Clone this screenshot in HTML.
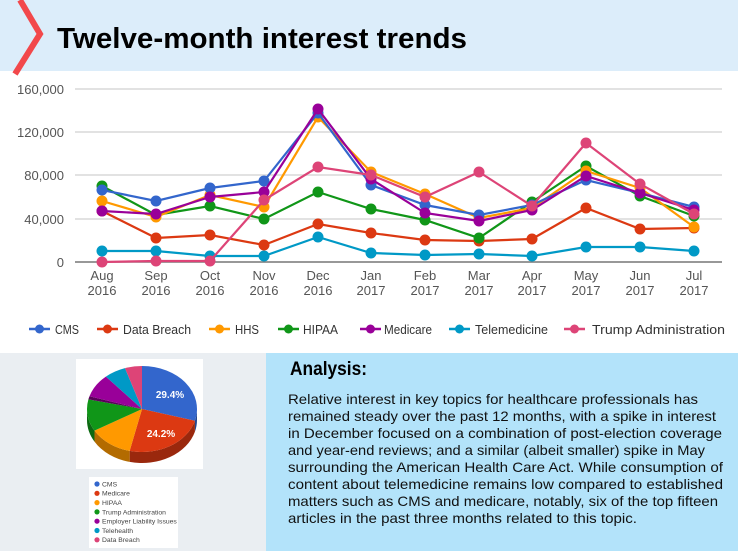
<!DOCTYPE html>
<html><head><meta charset="utf-8"><style>
html,body{margin:0;padding:0;width:738px;height:551px;overflow:hidden;background:#fff}
svg{display:block}
text{font-family:"Liberation Sans",sans-serif}
</style></head><body>
<svg id="s" width="738" height="551" viewBox="0 0 738 551" xmlns="http://www.w3.org/2000/svg">
<rect x="0" y="0" width="738" height="71" fill="#dcedfa"/>
<rect x="0" y="71" width="738" height="282" fill="#fff"/>
<rect x="0" y="353" width="266" height="198" fill="#eaeef2"/>
<rect x="266" y="353" width="472" height="198" fill="#b3e3fa"/>
<polyline points="20,0 40,34 15,74" fill="none" stroke="#f2484b" stroke-width="6"/>
<text x="57" y="48" font-size="29" font-weight="bold" fill="#000" textLength="410" lengthAdjust="spacingAndGlyphs">Twelve-month interest trends</text>
<g id="grid" stroke="#e2e2e2" stroke-width="2">
<line x1="75" y1="89" x2="722" y2="89"/><line x1="75" y1="132" x2="722" y2="132"/><line x1="75" y1="175" x2="722" y2="175"/><line x1="75" y1="219" x2="722" y2="219"/>
</g>
<line x1="75" y1="262" x2="722" y2="262" stroke="#777" stroke-width="1.5"/>
<g font-size="13" fill="#555" text-anchor="end">
<text x="64" y="94">160,000</text><text x="64" y="137">120,000</text><text x="64" y="180">80,000</text><text x="64" y="224">40,000</text><text x="64" y="267">0</text>
</g>
<g id="xl" font-size="13" fill="#555" text-anchor="middle"></g>
<g id="series"></g>
<g id="leg" font-size="13" fill="#333"></g>
<rect x="76" y="359" width="127" height="110" fill="#fff"/>
<g id="pie"></g>
<rect x="89" y="477" width="89" height="71" fill="#fff"/>
<g id="pl" font-size="6.8" fill="#444"></g>
<text x="290" y="375" font-size="19" font-weight="bold" fill="#000" textLength="77" lengthAdjust="spacingAndGlyphs">Analysis:</text>
<g font-size="14" fill="#111">
<text x="288" y="404" textLength="410" lengthAdjust="spacingAndGlyphs">Relative interest in key topics for healthcare professionals has</text>
<text x="288" y="421" textLength="428" lengthAdjust="spacingAndGlyphs">remained steady over the past 12 months, with a spike in interest</text>
<text x="288" y="438" textLength="434" lengthAdjust="spacingAndGlyphs">in December focused on a combination of post-election coverage</text>
<text x="288" y="455" textLength="417" lengthAdjust="spacingAndGlyphs">and year-end reviews; and a similar (albeit smaller) spike in May</text>
<text x="288" y="472" textLength="435" lengthAdjust="spacingAndGlyphs">surrounding the American Health Care Act. While consumption of</text>
<text x="288" y="489" textLength="435" lengthAdjust="spacingAndGlyphs">content about telemedicine remains low compared to established</text>
<text x="288" y="506" textLength="430" lengthAdjust="spacingAndGlyphs">matters such as CMS and medicare, notably, six of the top fifteen</text>
<text x="288" y="523" textLength="349" lengthAdjust="spacingAndGlyphs">articles in the past three months related to this topic.</text>
</g>
</svg>
<script>
var NS="http://www.w3.org/2000/svg";
function el(t,a,p,txt){var e=document.createElementNS(NS,t);for(var k in a)e.setAttribute(k,a[k]);if(txt)e.textContent=txt;p.appendChild(e);return e;}
var X=[102,156,210,264,318,371,425,479,532,586,640,694];
var M=["Aug","Sep","Oct","Nov","Dec","Jan","Feb","Mar","Apr","May","Jun","Jul"];
var xl=document.getElementById("xl");
for(var i=0;i<12;i++){el("text",{x:X[i],y:280},xl,M[i]);el("text",{x:X[i],y:295},xl,i<5?"2016":"2017");}
var S=[
["Telemedicine","#0099c6",[251,251,256,256,237,253,255,254,256,247,247,251]],
["Data Breach","#dc3912",[211,238,235,245,224,233,240,241,239,208,229,228]],
["HIPAA","#109618",[186,215,206,219,192,209,220,238,202,166,196,216]],
["HHS","#ff9900",[201,217,195,207,117,172,194,218,208,171,188,227]],
["CMS","#3366cc",[190,201,188,181,113,185,205,215,205,180,193,207]],
["Medicare","#990099",[211,214,197,192,109,179,213,221,210,176,193,210]],
["Trump Administration","#dd4477",[262,261,261,200,167,175,197,172,206,143,184,214]]];
var g=document.getElementById("series");
S.forEach(function(s){var p=s[2].map(function(y,i){return X[i]+","+y}).join(" ");
el("polyline",{points:p,fill:"none",stroke:s[1],"stroke-width":2.2},g);
s[2].forEach(function(y,i){el("circle",{cx:X[i],cy:y,r:5.5,fill:s[1]},g);});});
var L=[["CMS","#3366cc",29,55,24],["Data Breach","#dc3912",97,123,68],["HHS","#ff9900",209,235,24],["HIPAA","#109618",278,303,35],["Medicare","#990099",360,384,48],["Telemedicine","#0099c6",449,475,73],["Trump Administration","#dd4477",564,592,133]];
var lg=document.getElementById("leg");
L.forEach(function(l){el("line",{x1:l[2],y1:329,x2:l[2]+21,y2:329,stroke:l[1],"stroke-width":2.5},lg);
el("circle",{cx:l[2]+10.5,cy:329,r:4.5,fill:l[1]},lg);el("text",{x:l[3],y:334,textLength:l[4],lengthAdjust:"spacingAndGlyphs"},lg,l[0]);});
var pg=document.getElementById("pie"),cx=142,cy=409,rx=55,ry=43,d=11;
var P=[[29.4,"#3366cc","#23478f"],[24.2,"#dc3912","#9a280d"],[13,"#ff9900","#b36b00"],[12,"#109618","#0b6911"],[1.2,"#5a005a","#3e003e"],[8.8,"#990099","#6b006b"],[6.4,"#0099c6","#006b8b"],[5,"#dd4477","#9b3053"]];
function pt(a,dy){return [cx+rx*Math.sin(a),cy-ry*Math.cos(a)+(dy||0)];}
var a=0,angs=[];P.forEach(function(p){var b=a+p[0]/100*2*Math.PI;angs.push([a,b]);a=b;});
P.forEach(function(p,i){var s=angs[i][0],e=angs[i][1];var s2=Math.max(s,Math.PI/2),e2=Math.min(e,3*Math.PI/2);
if(e2>s2){var A=pt(s2),B=pt(e2),A2=pt(s2,d),B2=pt(e2,d);var lf=(e2-s2)>Math.PI?1:0;
el("path",{d:"M"+A+" A"+rx+","+ry+" 0 "+lf+" 1 "+B+" L"+B2+" A"+rx+","+ry+" 0 "+lf+" 0 "+A2+" Z",fill:p[2]},pg);}});
P.forEach(function(p,i){var s=angs[i][0],e=angs[i][1],A=pt(s),B=pt(e),lf=(e-s)>Math.PI?1:0;
el("path",{d:"M"+cx+","+cy+" L"+A+" A"+rx+","+ry+" 0 "+lf+" 1 "+B+" Z",fill:p[1]},pg);});
el("text",{x:170,y:398,"font-size":"10","font-weight":"bold",fill:"#fff","text-anchor":"middle"},pg,"29.4%");
el("text",{x:161,y:437,"font-size":"10","font-weight":"bold",fill:"#fff","text-anchor":"middle"},pg,"24.2%");
var PL=[["CMS","#3366cc"],["Medicare","#dc3912"],["HIPAA","#ff9900"],["Trump Administration","#109618"],["Employer Liability Issues","#990099"],["Telehealth","#0099c6"],["Data Breach","#dd4477"]];
var pl=document.getElementById("pl");
PL.forEach(function(p,i){var y=484+i*9.3;el("circle",{cx:97,cy:y,r:2.6,fill:p[1]},pl);el("text",{x:102,y:y+2.4},pl,p[0]);});
</script>
</body></html>
